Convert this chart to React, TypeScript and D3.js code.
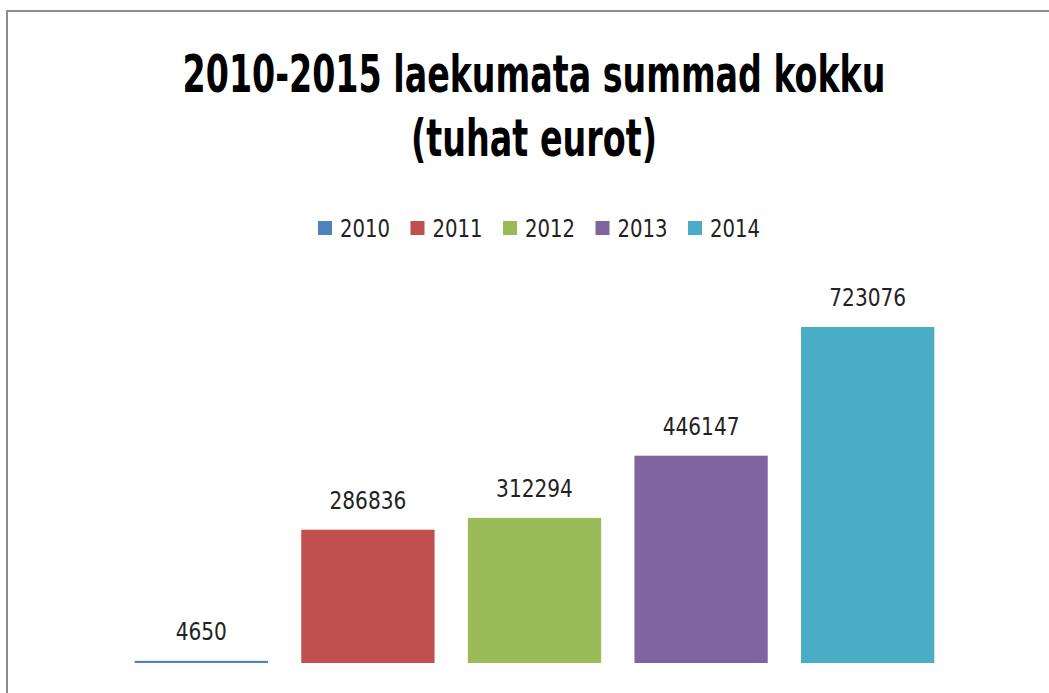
import { useEffect, useRef } from "react";
import * as d3 from "d3";

const years = ["2010", "2011", "2012", "2013", "2014"];
const values = [4650, 286836, 312294, 446147, 723076];
const colors = ["#4f81bd", "#c0504d", "#9bbb59", "#8064a2", "#4bacc6"];
const titleLines = ["2010-2015 laekumata summad kokku", "(tuhat eurot)"];
const titleWidths = [703, 246];

const FONT = "'Liberation Sans Narrow', 'DejaVu Sans Condensed', sans-serif";

const App = () => {
  const svgRef = useRef<SVGSVGElement>(null);

  useEffect(() => {
    const svg = d3.select(svgRef.current);
    const width = 1049;
    const height = 693;

    svg.selectAll("*").remove();

    svg.append("rect").attr("width", width).attr("height", height).attr("fill", "#fff");

    // chart frame
    svg
      .append("rect")
      .attr("x", 7)
      .attr("y", 11)
      .attr("width", width + 20)
      .attr("height", height + 20)
      .attr("fill", "none")
      .attr("stroke", "#8c8c8c")
      .attr("stroke-width", 2);

    // title, squeezed horizontally to look like a narrow font
    const title = svg
      .append("g")
      .selectAll("text")
      .data(titleLines)
      .enter()
      .append("text")
      .attr("text-anchor", "middle")
      .attr("font-family", FONT)
      .attr("font-weight", "bold")
      .attr("font-size", 52)
      .attr("fill", "#000")
      .text((d) => d);
    title.attr("transform", function (_, i) {
      const w = (this as SVGTextElement).getComputedTextLength() || titleWidths[i];
      return `translate(534,${92 + i * 64}) scale(${titleWidths[i] / w},1)`;
    });

    // legend
    const legendX = d3.scalePoint().domain(years).range([318, 688]);
    const legend = svg
      .append("g")
      .selectAll("g")
      .data(years)
      .enter()
      .append("g")
      .attr("transform", (d) => `translate(${legendX(d)},0)`);
    legend
      .append("rect")
      .attr("y", 221)
      .attr("width", 14)
      .attr("height", 14)
      .attr("fill", (_, i) => colors[i]);
    legend
      .append("text")
      .attr("x", 22)
      .attr("y", 237)
      .attr("font-family", FONT)
      .attr("font-size", 24)
      .attr("textLength", 50)
      .attr("lengthAdjust", "spacingAndGlyphs")
      .attr("fill", "#222")
      .text((d) => d);

    const x = d3
      .scaleBand()
      .domain(years)
      .range([118, 951])
      .paddingInner(0.2)
      .paddingOuter(0.1);

    const y = d3.scaleLinear().domain([0, 723076]).range([663, 327]);

    // bars
    svg
      .selectAll(".bar")
      .data(values)
      .enter()
      .append("rect")
      .attr("class", "bar")
      .attr("x", (_, i) => x(years[i])!)
      .attr("y", (d) => Math.min(y(d), 661))
      .attr("width", x.bandwidth())
      .attr("height", (d) => Math.max(y(0) - y(d), 2))
      .attr("fill", (_, i) => colors[i]);

    // value labels
    svg
      .selectAll(".label")
      .data(values)
      .enter()
      .append("text")
      .attr("class", "label")
      .attr("x", (_, i) => x(years[i])! + x.bandwidth() / 2)
      .attr("y", (d) => Math.min(y(d), 661) - 21)
      .attr("text-anchor", "middle")
      .attr("font-family", FONT)
      .attr("font-size", 24)
      .attr("textLength", (d) => `${d}`.length * 12.8)
      .attr("lengthAdjust", "spacingAndGlyphs")
      .attr("fill", "#222")
      .text((d) => `${d}`);
  }, []);

  return (
    <svg
      ref={svgRef}
      width={1049}
      height={693}
      style={{ position: "absolute", left: 0, top: 0 }}
    ></svg>
  );
};

export default App;
